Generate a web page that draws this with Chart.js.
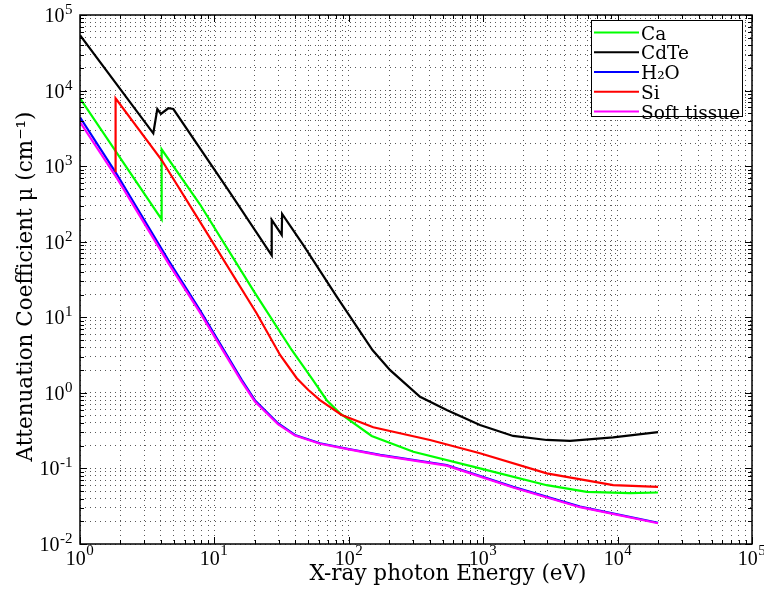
<!DOCTYPE html>
<html>
<head>
<meta charset="utf-8">
<script src="https://cdn.jsdelivr.net/npm/chart.js@4.4.0/dist/chart.umd.min.js"></script>
<style>
html, body { margin: 0; padding: 0; background: #fff; }
canvas { display: block; }
</style>
</head>
<body>
<canvas id="graph" width="764" height="589"></canvas>
<script>
const canvas = document.getElementById('graph');

// series names and colours, in legend order
const seriesNames = ['Ca', 'CdTe', 'H\u2082O', 'Si', 'Soft tissue'];
const seriesColors = ['#00ff00', '#000000', '#0000ff', '#ff0000', '#ff00ff'];

// photon energy (eV) and attenuation (1/cm)
const energyCa = [1, 4.05, 4.05, 7.8, 20, 37.6, 54, 68.5, 86, 148, 302, 946, 2970, 5890, 12360, 20000];
const muCa = [7900, 198, 1670, 313, 21, 3.69, 1.48, 0.80, 0.536, 0.269, 0.166, 0.1, 0.06, 0.049, 0.047, 0.048];

const energyCdTe = [1, 3.51, 3.76, 4.0, 4.54, 4.95, 12.7, 26.7, 26.7, 31.7, 31.9, 45.9, 81.3, 150, 203, 339, 535, 946, 1670, 2970, 4425, 9270, 20000];
const muCdTe = [54300, 2720, 5700, 4900, 5830, 5700, 483, 66, 194, 123, 233, 90, 18.8, 3.69, 2.0, 0.889, 0.593, 0.376, 0.269, 0.238, 0.231, 0.258, 0.303];

const energyH2O = [1, 1.84, 4.54, 7.8, 16, 20, 29.7, 39.8, 61, 100, 171, 535, 1670, 5250, 20000];
const muH2O = [4430, 829, 57, 12.5, 1.48, 0.80, 0.396, 0.277, 0.215, 0.181, 0.151, 0.111, 0.057, 0.0312, 0.0191];

const energySi = [1.84, 1.84, 4.05, 7.8, 20.6, 30.8, 41, 50, 61, 88.5, 152, 402, 946, 2970, 9270, 20000];
const muSi = [829, 7900, 1205, 184, 11.3, 3.17, 1.56, 1.09, 0.80, 0.51, 0.35, 0.238, 0.159, 0.086, 0.06, 0.057];

const energySoft = [1, 1.84, 4.54, 7.8, 16, 20, 29.7, 39.8, 61, 100, 171, 535, 1670, 5250, 20000];
const muSoft = [3840, 740, 52, 11.6, 1.40, 0.77, 0.385, 0.272, 0.212, 0.179, 0.149, 0.109, 0.056, 0.0307, 0.0188];

// decades shown on each axis
const xDecades = [0, 1, 2, 3, 4, 5];
const yDecades = [-2, -1, 0, 1, 2, 3, 4, 5];

const xTitle = 'X-ray photon Energy (eV)';
const yTitle = 'Attenuation Coefficient \u03bc (cm\u207b\u00b9)';

function toPoints(xs, ys) {
    return xs.map((x, i) => ({x: x, y: ys[i]}));
}

function logTicks(decades) {
    const ticks = [];
    decades.forEach((e, i) => {
        ticks.push({value: Math.pow(10, e)});
        if (i < decades.length - 1) {
            for (let m = 2; m <= 9; m++) {
                ticks.push({value: m * Math.pow(10, e)});
            }
        }
    });
    return ticks;
}

// exponent of a power of ten, or null for the minor ticks
function powerOf(value) {
    const e = Math.round(Math.log10(value));
    if (Math.abs(value - Math.pow(10, e)) > 1e-6 * value) {
        return null;
    }
    return e;
}

const seriesData = [
    toPoints(energyCa, muCa),
    toPoints(energyCdTe, muCdTe),
    toPoints(energyH2O, muH2O),
    toPoints(energySi, muSi),
    toPoints(energySoft, muSoft)
];

const gridOpts = {
    color: 'rgba(0, 0, 0, 0.65)',
    lineWidth: 1,
    drawTicks: false
};
const borderOpts = {
    display: false,
    dash: [1, 4]
};

const baseFont = '20px "Liberation Serif", serif';
const expFont = '15px "Liberation Serif", serif';
const titleFont = '21.5px "DejaVu Serif", serif';
const legendFont = '18.5px "DejaVu Serif", serif';

const framePlugin = {
    id: 'frame',
    afterDraw(chart) {
        const ctx = chart.ctx;
        const a = chart.chartArea;
        const sx = chart.scales.x;
        const sy = chart.scales.y;

        function line(x1, y1, x2, y2) {
            ctx.beginPath();
            ctx.moveTo(x1, y1);
            ctx.lineTo(x2, y2);
            ctx.stroke();
        }

        // draws 10^e with a raised exponent; x is the label's right edge or centre
        function power(e, x, y, align, raise) {
            const exp = String(e);
            ctx.font = baseFont;
            const w1 = ctx.measureText('10').width;
            ctx.font = expFont;
            const w2 = ctx.measureText(exp).width;
            const left = align === 'right' ? x - w1 - w2 : x - (w1 + w2) / 2;
            ctx.textAlign = 'left';
            ctx.font = baseFont;
            ctx.fillText('10', left, y);
            ctx.font = expFont;
            ctx.fillText(exp, left + w1 + 0.5, y - raise);
        }

        ctx.save();
        ctx.strokeStyle = '#000';
        ctx.fillStyle = '#000';
        ctx.lineWidth = 1;
        ctx.textBaseline = 'alphabetic';
        sx.ticks.forEach(t => {
            const px = Math.round(sx.getPixelForValue(t.value)) + 0.5;
            const e = powerOf(t.value);
            const len = e !== null ? 7 : 4;
            line(px, a.bottom, px, a.bottom - len);
            line(px, a.top, px, a.top + len);
            if (e !== null) {
                power(e, px - 1, 565, 'center', 10);
            }
        });
        sy.ticks.forEach(t => {
            const py = Math.round(sy.getPixelForValue(t.value)) + 0.5;
            const e = powerOf(t.value);
            const len = e !== null ? 7 : 4;
            line(a.left, py, a.left + len, py);
            line(a.right, py, a.right - len, py);
            if (e !== null) {
                power(e, 72, py + 6.5, 'right', 8);
            }
        });

        ctx.lineWidth = 1.5;
        ctx.strokeRect(a.left, a.top, a.right - a.left, a.bottom - a.top);

        // axis titles
        ctx.font = titleFont;
        ctx.textAlign = 'center';
        ctx.fillText(xTitle, 448, 580);
        ctx.save();
        ctx.translate(32, 286.5);
        ctx.rotate(-Math.PI / 2);
        ctx.fillText(yTitle, 0, 0);
        ctx.restore();

        // legend box in the top right corner
        ctx.fillStyle = '#fff';
        ctx.fillRect(591.5, 20.5, 151, 96);
        ctx.lineWidth = 1;
        ctx.strokeStyle = '#000';
        ctx.strokeRect(591.5, 20.5, 151, 96);
        ctx.font = legendFont;
        ctx.textAlign = 'left';
        chart.data.datasets.forEach((ds, i) => {
            const rowY = 32.5 + i * 19.75;
            ctx.strokeStyle = ds.borderColor;
            ctx.lineWidth = 2;
            line(594, rowY, 639, rowY);
            ctx.fillStyle = '#000';
            ctx.fillText(ds.label, 641, rowY + 7);
        });
        ctx.restore();
    }
};

const chart = new Chart(canvas, {
    type: 'line',
    data: {
        datasets: seriesNames.map((name, i) => ({
            label: name,
            data: seriesData[i],
            borderColor: seriesColors[i],
            backgroundColor: seriesColors[i],
            borderWidth: 2.2,
            pointRadius: 0,
            tension: 0,
            fill: false,
            order: seriesNames.length - i
        }))
    },
    options: {
        responsive: false,
        animation: false,
        events: [],
        layout: {padding: {left: 0, right: 12, top: 15, bottom: 0}},
        plugins: {
            legend: {display: false},
            tooltip: {enabled: false}
        },
        scales: {
            x: {
                type: 'logarithmic',
                position: 'bottom',
                min: 1,
                max: 1e5,
                afterBuildTicks: s => { s.ticks = logTicks(xDecades); },
                afterFit: s => { s.height = 45; s.paddingLeft = 0; s.paddingRight = 0; },
                ticks: {display: false, autoSkip: false},
                grid: gridOpts,
                border: borderOpts
            },
            y: {
                type: 'logarithmic',
                position: 'left',
                min: 1e-2,
                max: 1e5,
                afterBuildTicks: s => { s.ticks = logTicks(yDecades); },
                afterFit: s => { s.width = 80; s.paddingTop = 0; s.paddingBottom = 0; },
                ticks: {display: false, autoSkip: false},
                grid: gridOpts,
                border: borderOpts
            }
        }
    },
    plugins: [framePlugin]
});
</script>
</body>
</html>
